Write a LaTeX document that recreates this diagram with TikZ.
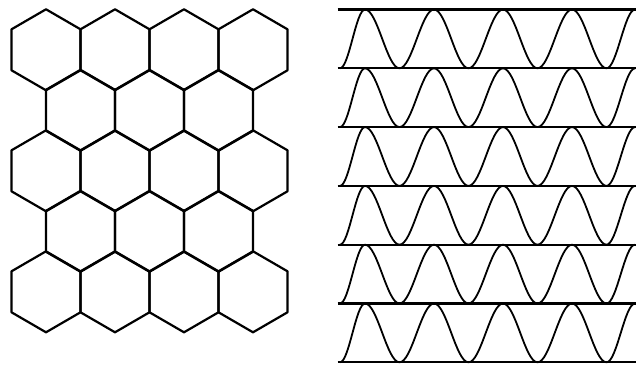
\documentclass[tikz,border=0pt]{standalone}
\usepackage{tikz}

\begin{document}
\begin{tikzpicture}[x=1pt, y=-1pt, line join=round,
    cell/.style={draw, line width=2.2pt},
    sheet/.style={draw, line width=2.2pt},
    wave/.style={draw, line width=1.8pt}]
    \useasboundingbox (0,0) rectangle (636,366);

    % Honeycomb
    \foreach \r/\n/\s in {0/3/0, 1/2/34.5, 2/3/0, 3/2/34.5, 4/3/0} {
        \foreach \c in {0,...,\n} {
            \draw[cell, shift={({46+\s+69*\c},{49.8+60.5*\r})}]
                (0,-40.5) -- (34.5,-20.5) -- (34.5,20.5) -- (0,40.5)
                -- (-34.5,20.5) -- (-34.5,-20.5) -- cycle;
        }
    }

    % Flat sheets
    \foreach \k in {0,...,6}
        \draw[sheet] (337.5,{9.5+58.8*\k}) -- (636,{9.5+58.8*\k});

    % Corrugated layers
    \foreach \k in {0,...,5} {
        \pgfmathsetmacro{\t}{9.5+58.8*\k}
        \pgfmathsetmacro{\b}{\t+58.8}
        \pgfmathsetmacro{\m}{\t+29.4}
        \draw[wave] (340,\b) cos (352.5,\m) sin (365,\t)
            \foreach \p in {434,503,572} {
                cos ({\p-51.75},\m) sin ({\p-34.5},\b) cos ({\p-17.25},\m) sin (\p,\t)
            }
            cos (589.25,\m) sin (606.5,\b) cos (620.75,\m) sin (635,\t);
    }
\end{tikzpicture}
\end{document}
